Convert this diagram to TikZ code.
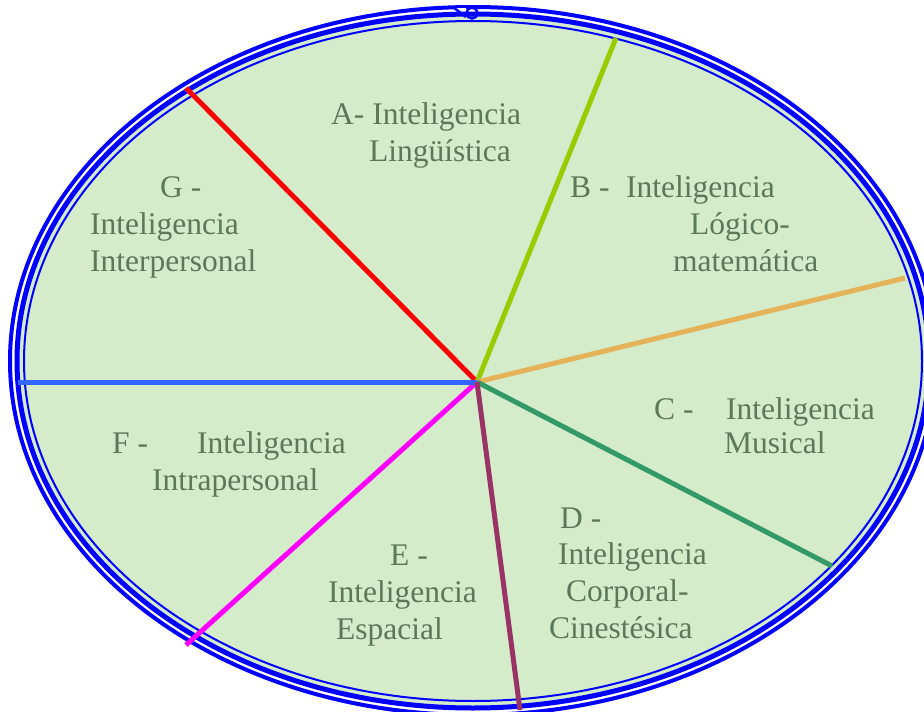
\documentclass[tikz,border=0pt]{standalone}
\usepackage{fontspec}
\setmainfont{Liberation Serif}
\definecolor{fillg}{RGB}{213,236,203}
\definecolor{txtg}{RGB}{92,120,88}
\definecolor{spred}{RGB}{255,0,0}
\definecolor{spyg}{RGB}{153,204,0}
\definecolor{spor}{RGB}{228,178,88}
\definecolor{spgr}{RGB}{51,153,102}
\definecolor{sppu}{RGB}{153,51,102}
\definecolor{spma}{RGB}{255,0,255}
\definecolor{spbl}{RGB}{51,102,255}
\definecolor{rim}{RGB}{0,0,255}
\begin{document}
\begin{tikzpicture}[x=1pt,y=-1pt,
  lbl/.style={anchor=base west,inner sep=0pt,text=txtg,font=\fontsize{31.5}{37}\selectfont},
  spoke/.style={line width=5pt},
  rimline/.style={draw=rim}]
\useasboundingbox (0,0) rectangle (924,712);
\clip (0,0) rectangle (924,712);
\coordinate (E) at (473,361);
% ellipse body and triple rim
\fill[fillg] (E) ellipse [x radius=456, y radius=347];
\draw[rimline, line width=2pt] (E) ellipse [x radius=449, y radius=340];
\draw[rimline, line width=5pt] (E) ellipse [x radius=456, y radius=347];
\draw[rimline, line width=4pt] (E) ellipse [x radius=463, y radius=354];
% small curl at top
\coordinate (k1) at (453,7);
\coordinate (k2) at (466,17);
\coordinate (k3) at (472,13);
\draw[white, line width=3pt] (455,9) -- (466,9);
\draw[rimline, line width=2.5pt] (k1) -- (k2);
\draw[rimline, line width=2.5pt] (k3) circle [radius=5.5];
% spokes
\coordinate (O) at (477,382);
\coordinate (pA) at (186,88);
\coordinate (pB) at (616,38);
\coordinate (pC) at (905,278);
\coordinate (pD) at (832,566);
\coordinate (pE) at (520,710);
\coordinate (pF) at (186,645);
\coordinate (pG) at (18,382);
\draw[spoke, spred] (O) -- (pA);
\draw[spoke, spyg] (O) -- (pB);
\draw[spoke, spor] (O) -- (pC);
\draw[spoke, spgr] (O) -- (pD);
\draw[spoke, spma] (O) -- (pF);
\draw[spoke, spbl] (O) -- (pG);
\draw[spoke, sppu] (O) -- (pE);
% labels
\node[lbl] (a1) at (331,124) {A- Inteligencia};
\node[lbl] (a2) at (369,161) {Lingüística};
\node[lbl] (b1) at (570,197) {\makebox[56pt][l]{B -}Inteligencia};
\node[lbl] (b2) at (690,234) {Lógico-};
\node[lbl] (b3) at (673,271) {matemática};
\node[lbl] (c1) at (654,419) {\makebox[72pt][l]{C -}Inteligencia};
\node[lbl] (c2) at (724,453) {Musical};
\node[lbl] (d1) at (560,528) {D -};
\node[lbl] (d2) at (558,564) {Inteligencia};
\node[lbl] (d3) at (566,601) {Corporal-};
\node[lbl] (d4) at (549,638) {Cinestésica};
\node[lbl] (e1) at (390,565) {E -};
\node[lbl] (e2) at (328,602) {Inteligencia};
\node[lbl] (e3) at (336,639) {Espacial};
\node[lbl] (f1) at (112,453) {\makebox[85pt][l]{F -}Inteligencia};
\node[lbl] (f2) at (152,490) {Intrapersonal};
\node[lbl] (g1) at (160,197) {G -};
\node[lbl] (g2) at (90,234) {Inteligencia};
\node[lbl] (g3) at (90,271) {Interpersonal};
\end{tikzpicture}
\end{document}
